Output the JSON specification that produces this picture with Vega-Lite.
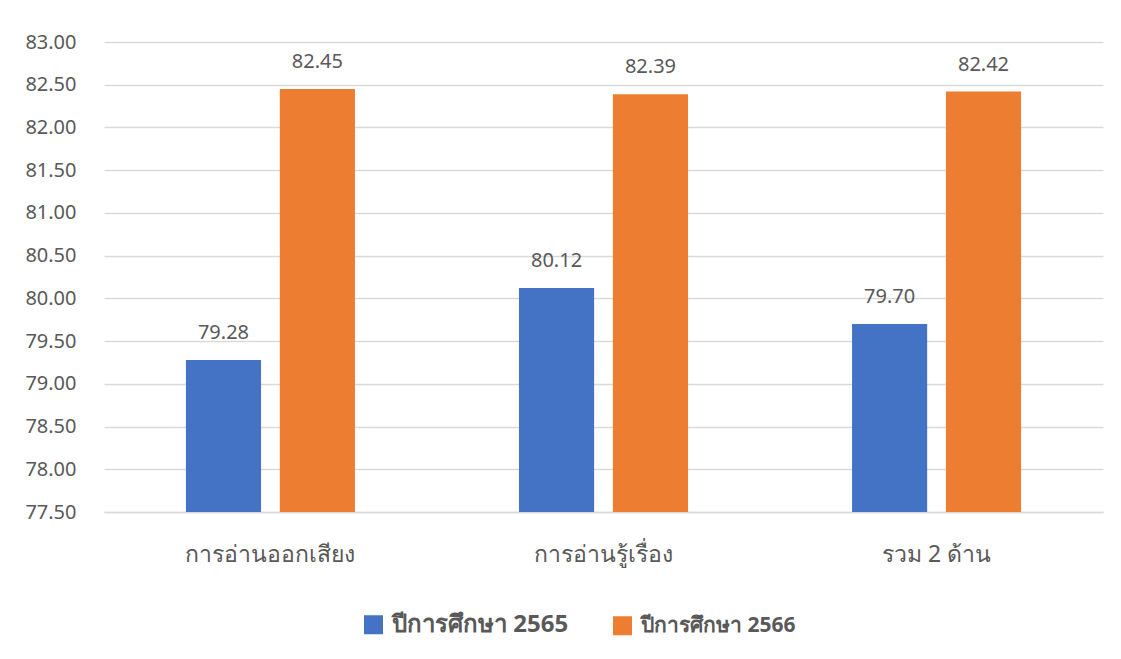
{
  "$schema": "https://vega.github.io/schema/vega-lite/v6.json",
  "width": 999,
  "height": 470,
  "autosize": {"type": "none"},
  "padding": {"left": 104, "top": 42, "right": 18, "bottom": 147},
  "background": "white",
  "config": {
    "font": "Noto Sans",
    "view": {"stroke": null},
    "axis": {"labelColor": "#595959", "domain": false, "ticks": false, "title": null, "gridColor": "#d9d9d9", "gridWidth": 1.5}
  },
  "data": {
    "values": [
      {"cat": "การอ่านออกเสียง", "year": "ปีการศึกษา 2565", "value": 79.28},
      {"cat": "การอ่านออกเสียง", "year": "ปีการศึกษา 2566", "value": 82.45},
      {"cat": "การอ่านรู้เรื่อง", "year": "ปีการศึกษา 2565", "value": 80.12},
      {"cat": "การอ่านรู้เรื่อง", "year": "ปีการศึกษา 2566", "value": 82.39},
      {"cat": "รวม 2 ด้าน", "year": "ปีการศึกษา 2565", "value": 79.70},
      {"cat": "รวม 2 ด้าน", "year": "ปีการศึกษา 2566", "value": 82.42}
    ]
  },
  "encoding": {
    "x": {
      "field": "cat", "type": "nominal", "sort": null,
      "scale": {"paddingInner": 0.4925, "paddingOuter": 0.246},
      "axis": {"labelAngle": 0, "labelFontSize": 23, "labelPadding": 31, "grid": false, "domain": true, "domainColor": "#d9d9d9", "domainWidth": 1.5}
    },
    "xOffset": {"field": "year", "type": "nominal", "scale": {"paddingInner": 0.2, "paddingOuter": 0}},
    "y": {
      "field": "value", "type": "quantitative",
      "scale": {"domain": [77.5, 83], "zero": false, "nice": false},
      "axis": {"values": [77.5, 78, 78.5, 79, 79.5, 80, 80.5, 81, 81.5, 82, 82.5, 83], "format": ".2f", "labelFontSize": 20, "labelPadding": 28, "grid": true}
    }
  },
  "layer": [
    {
      "mark": {"type": "bar", "clip": true},
      "encoding": {
        "color": {
          "field": "year", "type": "nominal",
          "scale": {"range": ["#4472C4", "#ED7D31"]},
          "legend": {
            "title": null, "orient": "none", "legendX": 259, "legendY": 572, "direction": "horizontal",
            "symbolType": "square", "symbolSize": 361, "symbolStrokeWidth": 0,
            "labelFontSize": 21, "labelFontWeight": "bold", "labelColor": "#595959", "labelLimit": 400,
            "labelOffset": 8, "columnPadding": 43,
            "encode": {"labels": {"update": {"fontSize": {"signal": "datum.value == 'ปีการศึกษา 2565' ? 24 : 21"}}}}
          }
        }
      }
    },
    {
      "mark": {"type": "text", "dy": -27, "fontSize": 20, "color": "#595959"},
      "encoding": {"text": {"field": "value", "type": "quantitative", "format": ".2f"}}
    }
  ]
}
